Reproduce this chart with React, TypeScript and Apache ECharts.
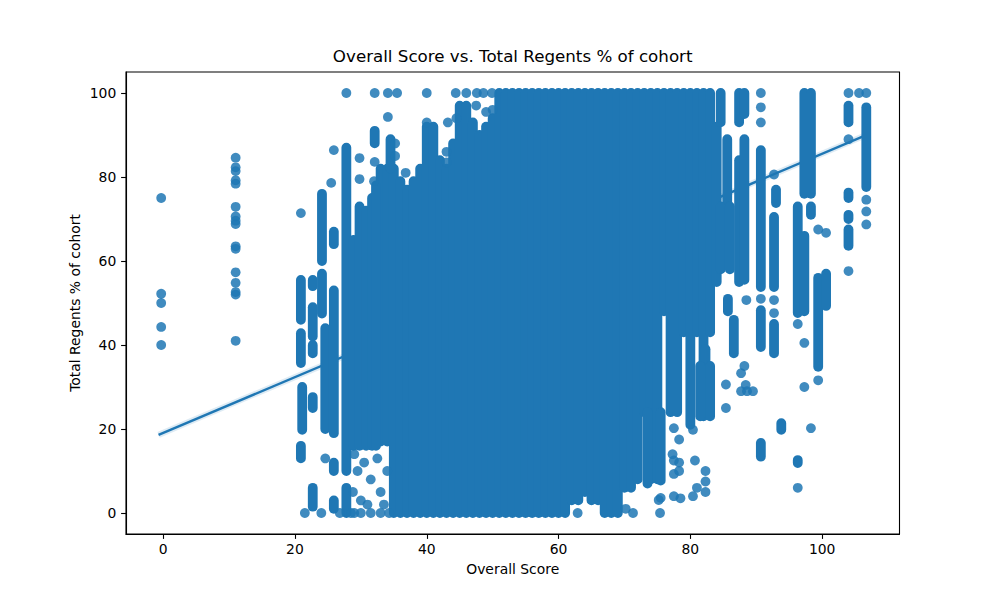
import React, { useEffect, useRef } from "react";
import * as echarts from "echarts";

// ---------- data ----------
const xTicks = [0, 20, 40, 60, 80, 100];
const yTicks = [0, 20, 40, 60, 80, 100];

// regression line end points (Overall Score, Total Regents %)
const regX = [-0.7, 106.4];
const regY = [18.6, 89.8];

// stacks of overlapping points in the dense body: [overall score, lowest %, highest %]
const denseColumns: [number, number, number][] = [
  [33, 17, 82], [34, 17, 82], [35, 0, 82], [36, 0, 79], [37, 0, 77], [38, 0, 79],
  [39, 0, 82], [40, 0, 92], [41, 0, 92], [42, 0, 84], [43, 0, 82], [44, 0, 88],
  [45, 0, 97], [46, 0, 97], [47, 0, 93], [48, 0, 90],
  [49, 0, 92], [50, 0, 94], [51, 0, 100], [52, 0, 100], [53, 0, 100],
  [54, 0, 100], [55, 0, 100], [56, 0, 100], [57, 0, 100], [58, 0, 100],
  [59, 0, 100], [60, 0, 100], [61, 0, 100], [62, 3, 100], [63, 3, 100], [64, 5, 100],
  [65, 3, 100], [66, 3, 100], [67, 0, 100], [68, 0, 100], [69, 0, 100], [70, 6, 100],
  [71, 6, 100], [72, 8, 100], [73, 24, 100], [74, 8, 100], [75, 8, 100], [76, 48, 100],
  [77, 24, 100], [78, 24, 100], [79, 43, 100], [80, 21, 100], [81, 43, 100],
  [82, 23, 100], [83, 43, 100], [84, 55, 92],
];

// shorter stacks of points at single scores: [overall score, lowest %, highest %]
const sparseRuns: [number, number, number][] = [
  [20.9, 46, 55.5], [20.9, 35.7, 42.8], [21.1, 19.8, 30], [20.9, 13, 16],
  [22.7, 54, 55.5], [22.7, 42, 49], [22.7, 38, 40], [22.7, 25, 27.6], [22.7, 1.5, 6],
  [24.1, 60, 76], [24.1, 47.5, 57], [24.6, 20, 44],
  [25.9, 64, 67], [25.9, 19, 53], [25.9, 10, 12], [25.9, 1, 3],
  [27.8, 10, 87], [27.8, 0, 6], [28.9, 16, 65], [29.8, 16, 73], [30.8, 16, 72],
  [31.7, 16, 75], [32.1, 88, 91], [32.3, 16, 78], [34.5, 82, 89],
  [73.5, 7, 24], [75.5, 7.7, 24],
  [82.3, 33.5, 39], [81.5, 23, 35], [83, 23, 35],
  [84.6, 93, 100], [85.6, 74, 89], [84.6, 58, 73], [86, 58, 73], [87.4, 55, 84],
  [87.4, 93, 100], [85.7, 48, 51], [86.6, 38, 46], [88.2, 55.5, 89], [88.2, 95, 100],
  [90.7, 53.8, 86.4], [90.7, 39.5, 48.3], [90.7, 13.4, 16.7],
  [93, 73.8, 77], [92.7, 53.8, 70.5], [92.7, 38, 45], [93.8, 19.8, 21.4],
  [96.3, 47.6, 73], [96.3, 11.9, 12.6], [97.3, 76, 100], [98.3, 76, 100],
  [98.3, 71, 73], [97.3, 48, 66], [99.4, 34.8, 56], [100.6, 49.3, 57],
  [104, 93, 97], [104, 75, 76.3], [104, 70, 71], [104, 63.6, 67.5],
  [106.7, 77.6, 96.6],
];

// single schools: [overall score, total regents %]
const isolatedDots: [number, number][] = [
  [-0.3, 75], [-0.3, 52.2], [-0.3, 50], [-0.3, 44.3], [-0.3, 40],
  [11, 84.6], [11, 82.3], [11, 81.4], [11, 79.2], [11, 78.4], [11, 72.9], [11, 70.6],
  [11, 69.6], [11, 68.8], [11, 63.5], [11, 62.9], [11, 57.3], [11, 54.8], [11, 52.6],
  [11, 52], [11, 41],
  [20.9, 71.4], [21.5, 0], [24, 0], [24.6, 13], [25.9, 86.4], [25.5, 78.6],
  [29.8, 84.5], [29.8, 79.5], [32.1, 83.6], [32, 79],
  [29, 14], [29.5, 10], [28.8, 5], [30, 3], [29, 0], [30.5, 12], [31.5, 8], [32.5, 13],
  [33, 5], [34, 10], [31, 2], [33.5, 2], [26.8, 0], [28.5, 0], [30, 0], [31.5, 0],
  [33, 0], [34.3, 0],
  [34.1, 94.3], [35.2, 88], [35.2, 85], [36.8, 81],
  [40, 93], [43.2, 93], [44.5, 94], [43, 86], [43, 83.5], [47.5, 97], [49, 95.5], [50, 96],
  [62.9, 0], [70.2, 1], [71.3, 0],
  [75.5, 3.6], [75.4, 0], [75.2, 3.1],
  [77.5, 20.2], [78.3, 17.5], [77.3, 14], [80.4, 19.8], [77.5, 12.5], [77.5, 9.3],
  [80.7, 12.5], [78.3, 12], [78.3, 10], [82.3, 10], [82.3, 7.5], [82.3, 5], [80.4, 4],
  [77.5, 4], [81, 6], [78.5, 3.5],
  [85.4, 30.6], [85.4, 25], [88.2, 35], [87.7, 33.3], [87.7, 29], [88.6, 29], [89.5, 29],
  [88.4, 30.5], [88.5, 50.7],
  [90.7, 100], [90.7, 96.6], [90.7, 93], [90.7, 51],
  [92.7, 80.6], [92.7, 50.7], [92.7, 47.6],
  [96.3, 45], [96.3, 6], [97.3, 40.5], [97.3, 30], [98.3, 20.2],
  [99.4, 67.5], [100.6, 66.7], [99.4, 31.6],
  [104, 100], [104, 89], [104, 57.6], [105.6, 100],
  [106.7, 100], [106.7, 74.6], [106.7, 71.8], [106.7, 68.7],
];

// schools with 100 % sitting left of the dense body
const topRowX = [27.8, 32.1, 34.1, 35.5, 40, 44.4, 46, 47.6, 48.6, 49.9];
const topRowY = 100;

const BLUE = "#1f77b4";
const FONT = "DejaVu Sans";
const DOT = 9.8;

export default function App() {
  const ref = useRef<HTMLDivElement>(null);

  useEffect(() => {
    document.body.style.margin = "0";
    const chart = echarts.init(ref.current!, null, { renderer: "svg" });

    const runData = [...denseColumns, ...sparseRuns];
    const dotData = [...isolatedDots, ...topRowX.map((x) => [x, topRowY])];

    const renderRun = (params: any, api: any) => {
      const x = api.value(0);
      const lo = api.value(1);
      const hi = api.value(2);
      const top = api.coord([x, hi]);
      const bot = api.coord([x, lo]);
      const r = DOT / 2;
      return {
        type: "rect",
        shape: { x: top[0] - r, y: top[1] - r, width: 2 * r, height: bot[1] - top[1] + 2 * r, r },
        style: { fill: BLUE },
      };
    };

    chart.setOption({
      animation: false,
      backgroundColor: "#fff",
      textStyle: { fontFamily: FONT },
      grid: {
        left: 126,
        right: 100.5,
        top: 72,
        bottom: 66,
        show: true,
        borderColor: "#000",
        borderWidth: 1.1,
        backgroundColor: "transparent",
      },
      xAxis: {
        type: "value",
        min: -5.64,
        max: 111.74,
        splitLine: { show: false },
        axisLine: { show: true, onZero: false, lineStyle: { color: "#000", width: 1.1 } },
        axisTick: { show: true, length: 4.9, lineStyle: { color: "#000", width: 1.1 }, customValues: xTicks },
        axisLabel: { customValues: xTicks, color: "#000", fontSize: 13.9, fontFamily: FONT, margin: 8 },
      },
      yAxis: {
        type: "value",
        min: -5,
        max: 105,
        splitLine: { show: false },
        axisLine: { show: true, onZero: false, lineStyle: { color: "#000", width: 1.1 } },
        axisTick: { show: true, length: 4.9, lineStyle: { color: "#000", width: 1.1 }, customValues: yTicks },
        axisLabel: { customValues: yTicks, color: "#000", fontSize: 13.9, fontFamily: FONT, margin: 9.7 },
      },
      graphic: [
        {
          type: "text",
          x: 512.7,
          y: 64,
          style: {
            text: "Overall Score vs. Total Regents % of cohort",
            fontSize: 16.7,
            fontFamily: FONT,
            fill: "#000",
            align: "center",
            verticalAlign: "bottom",
            textAlign: "center",
            textVerticalAlign: "bottom",
          },
        },
        {
          type: "text",
          x: 512.7,
          y: 569,
          style: {
            text: "Overall Score",
            fontSize: 13.9,
            fontFamily: FONT,
            fill: "#000",
            align: "center",
            verticalAlign: "middle",
            textAlign: "center",
            textVerticalAlign: "middle",
          },
        },
        {
          type: "text",
          x: 75,
          y: 303,
          rotation: Math.PI / 2,
          style: {
            text: "Total Regents % of cohort",
            fontSize: 13.9,
            fontFamily: FONT,
            fill: "#000",
            align: "center",
            verticalAlign: "middle",
            textAlign: "center",
            textVerticalAlign: "middle",
          },
        },
      ],
      series: [
        {
          type: "line",
          data: regX.map((x, i) => [x, regY[i]]),
          showSymbol: false,
          lineStyle: { color: BLUE, width: 6, opacity: 0.15 },
          z: 1,
          silent: true,
        },
        {
          type: "line",
          data: regX.map((x, i) => [x, regY[i]]),
          showSymbol: false,
          lineStyle: { color: BLUE, width: 2.4 },
          z: 1,
          silent: true,
        },
        {
          type: "custom",
          renderItem: renderRun,
          data: runData,
          encode: { x: 0, y: [1, 2] },
          clip: true,
          z: 2,
        },
        {
          type: "scatter",
          data: dotData,
          symbolSize: DOT,
          itemStyle: { color: BLUE, opacity: 0.85 },
          z: 3,
        },
      ],
    });

    return () => chart.dispose();
  }, []);

  return (
    <div
      ref={ref}
      style={{ position: "absolute", left: 0, top: 0, width: 1000, height: 600 }}
    />
  );
}
